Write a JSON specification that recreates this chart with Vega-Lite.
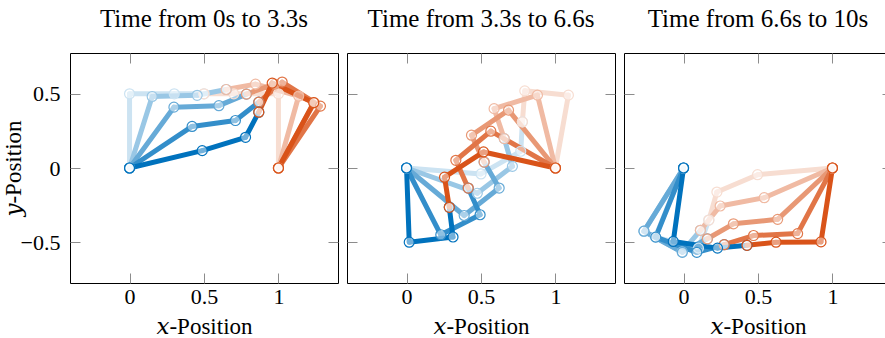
{
  "$schema": "https://vega.github.io/schema/vega-lite/v6.json",
  "padding": {"left": 1, "top": 6, "right": 0, "bottom": 0},
  "datasets": {
    "joints": [
      {"panel":1,"snap":1,"chain":"left","joint":0,"x":0,"y":0},
      {"panel":1,"snap":1,"chain":"left","joint":1,"x":0,"y":0.5},
      {"panel":1,"snap":1,"chain":"left","joint":2,"x":0.3,"y":0.5},
      {"panel":1,"snap":1,"chain":"left","joint":3,"x":0.5,"y":0.5},
      {"panel":1,"snap":1,"chain":"right","joint":0,"x":1,"y":0},
      {"panel":1,"snap":1,"chain":"right","joint":1,"x":1,"y":0.5},
      {"panel":1,"snap":1,"chain":"right","joint":2,"x":0.7,"y":0.5},
      {"panel":1,"snap":1,"chain":"right","joint":3,"x":0.5,"y":0.5},
      {"panel":1,"snap":2,"chain":"left","joint":0,"x":0,"y":0},
      {"panel":1,"snap":2,"chain":"left","joint":1,"x":0.152,"y":0.482},
      {"panel":1,"snap":2,"chain":"left","joint":2,"x":0.454,"y":0.49},
      {"panel":1,"snap":2,"chain":"left","joint":3,"x":0.649,"y":0.529},
      {"panel":1,"snap":2,"chain":"right","joint":0,"x":1,"y":0},
      {"panel":1,"snap":2,"chain":"right","joint":1,"x":1.136,"y":0.485},
      {"panel":1,"snap":2,"chain":"right","joint":2,"x":0.846,"y":0.565},
      {"panel":1,"snap":2,"chain":"right","joint":3,"x":0.649,"y":0.529},
      {"panel":1,"snap":3,"chain":"left","joint":0,"x":0,"y":0},
      {"panel":1,"snap":3,"chain":"left","joint":1,"x":0.298,"y":0.41},
      {"panel":1,"snap":3,"chain":"left","joint":2,"x":0.6,"y":0.42},
      {"panel":1,"snap":3,"chain":"left","joint":3,"x":0.785,"y":0.498},
      {"panel":1,"snap":3,"chain":"right","joint":0,"x":1,"y":0},
      {"panel":1,"snap":3,"chain":"right","joint":1,"x":1.24,"y":0.44},
      {"panel":1,"snap":3,"chain":"right","joint":2,"x":0.975,"y":0.565},
      {"panel":1,"snap":3,"chain":"right","joint":3,"x":0.785,"y":0.498},
      {"panel":1,"snap":4,"chain":"left","joint":0,"x":0,"y":0},
      {"panel":1,"snap":4,"chain":"left","joint":1,"x":0.42,"y":0.28},
      {"panel":1,"snap":4,"chain":"left","joint":2,"x":0.711,"y":0.32},
      {"panel":1,"snap":4,"chain":"left","joint":3,"x":0.868,"y":0.444},
      {"panel":1,"snap":4,"chain":"right","joint":0,"x":1,"y":0},
      {"panel":1,"snap":4,"chain":"right","joint":1,"x":1.282,"y":0.417},
      {"panel":1,"snap":4,"chain":"right","joint":2,"x":1.025,"y":0.579},
      {"panel":1,"snap":4,"chain":"right","joint":3,"x":0.868,"y":0.444},
      {"panel":1,"snap":5,"chain":"left","joint":0,"x":0,"y":0},
      {"panel":1,"snap":5,"chain":"left","joint":1,"x":0.488,"y":0.117},
      {"panel":1,"snap":5,"chain":"left","joint":2,"x":0.779,"y":0.207},
      {"panel":1,"snap":5,"chain":"left","joint":3,"x":0.868,"y":0.376},
      {"panel":1,"snap":5,"chain":"right","joint":0,"x":1,"y":0},
      {"panel":1,"snap":5,"chain":"right","joint":1,"x":1.237,"y":0.44},
      {"panel":1,"snap":5,"chain":"right","joint":2,"x":0.958,"y":0.572},
      {"panel":1,"snap":5,"chain":"right","joint":3,"x":0.868,"y":0.376},

      {"panel":2,"snap":1,"chain":"left","joint":0,"x":0,"y":0},
      {"panel":2,"snap":1,"chain":"left","joint":1,"x":0.5,"y":-0.04},
      {"panel":2,"snap":1,"chain":"left","joint":2,"x":0.767,"y":0.113},
      {"panel":2,"snap":1,"chain":"left","joint":3,"x":0.778,"y":0.311},
      {"panel":2,"snap":1,"chain":"right","joint":0,"x":1,"y":0},
      {"panel":2,"snap":1,"chain":"right","joint":1,"x":1.087,"y":0.491},
      {"panel":2,"snap":1,"chain":"right","joint":2,"x":0.794,"y":0.52},
      {"panel":2,"snap":1,"chain":"right","joint":3,"x":0.778,"y":0.311},
      {"panel":2,"snap":2,"chain":"left","joint":0,"x":0,"y":0},
      {"panel":2,"snap":2,"chain":"left","joint":1,"x":0.475,"y":-0.17},
      {"panel":2,"snap":2,"chain":"left","joint":2,"x":0.711,"y":0.011},
      {"panel":2,"snap":2,"chain":"left","joint":3,"x":0.656,"y":0.198},
      {"panel":2,"snap":2,"chain":"right","joint":0,"x":1,"y":0},
      {"panel":2,"snap":2,"chain":"right","joint":1,"x":0.879,"y":0.491},
      {"panel":2,"snap":2,"chain":"right","joint":2,"x":0.588,"y":0.4},
      {"panel":2,"snap":2,"chain":"right","joint":3,"x":0.656,"y":0.198},
      {"panel":2,"snap":3,"chain":"left","joint":0,"x":0,"y":0},
      {"panel":2,"snap":3,"chain":"left","joint":1,"x":0.387,"y":-0.32},
      {"panel":2,"snap":3,"chain":"left","joint":2,"x":0.622,"y":-0.135},
      {"panel":2,"snap":3,"chain":"left","joint":3,"x":0.521,"y":0.04},
      {"panel":2,"snap":3,"chain":"right","joint":0,"x":1,"y":0},
      {"panel":2,"snap":3,"chain":"right","joint":1,"x":0.685,"y":0.39},
      {"panel":2,"snap":3,"chain":"right","joint":2,"x":0.436,"y":0.221},
      {"panel":2,"snap":3,"chain":"right","joint":3,"x":0.521,"y":0.04},
      {"panel":2,"snap":4,"chain":"left","joint":0,"x":0,"y":0},
      {"panel":2,"snap":4,"chain":"left","joint":1,"x":0.23,"y":-0.45},
      {"panel":2,"snap":4,"chain":"left","joint":2,"x":0.494,"y":-0.315},
      {"panel":2,"snap":4,"chain":"left","joint":3,"x":0.414,"y":-0.135},
      {"panel":2,"snap":4,"chain":"right","joint":0,"x":1,"y":0},
      {"panel":2,"snap":4,"chain":"right","joint":1,"x":0.566,"y":0.248},
      {"panel":2,"snap":4,"chain":"right","joint":2,"x":0.331,"y":0.052},
      {"panel":2,"snap":4,"chain":"right","joint":3,"x":0.414,"y":-0.135},
      {"panel":2,"snap":5,"chain":"left","joint":0,"x":0,"y":0},
      {"panel":2,"snap":5,"chain":"left","joint":1,"x":0.018,"y":-0.5},
      {"panel":2,"snap":5,"chain":"left","joint":2,"x":0.312,"y":-0.465},
      {"panel":2,"snap":5,"chain":"left","joint":3,"x":0.287,"y":-0.265},
      {"panel":2,"snap":5,"chain":"right","joint":0,"x":1,"y":0},
      {"panel":2,"snap":5,"chain":"right","joint":1,"x":0.517,"y":0.108},
      {"panel":2,"snap":5,"chain":"right","joint":2,"x":0.255,"y":-0.062},
      {"panel":2,"snap":5,"chain":"right","joint":3,"x":0.287,"y":-0.265},

      {"panel":3,"snap":1,"chain":"left","joint":0,"x":0,"y":0},
      {"panel":3,"snap":1,"chain":"left","joint":1,"x":-0.19,"y":-0.466},
      {"panel":3,"snap":1,"chain":"left","joint":2,"x":0.1,"y":-0.54},
      {"panel":3,"snap":1,"chain":"left","joint":3,"x":0.17,"y":-0.351},
      {"panel":3,"snap":1,"chain":"right","joint":0,"x":1,"y":0},
      {"panel":3,"snap":1,"chain":"right","joint":1,"x":0.497,"y":-0.045},
      {"panel":3,"snap":1,"chain":"right","joint":2,"x":0.224,"y":-0.162},
      {"panel":3,"snap":1,"chain":"right","joint":3,"x":0.17,"y":-0.351},
      {"panel":3,"snap":2,"chain":"left","joint":0,"x":0,"y":0},
      {"panel":3,"snap":2,"chain":"left","joint":1,"x":-0.266,"y":-0.426},
      {"panel":3,"snap":2,"chain":"left","joint":2,"x":-0.01,"y":-0.565},
      {"panel":3,"snap":2,"chain":"left","joint":3,"x":0.113,"y":-0.42},
      {"panel":3,"snap":2,"chain":"right","joint":0,"x":1,"y":0},
      {"panel":3,"snap":2,"chain":"right","joint":1,"x":0.542,"y":-0.2},
      {"panel":3,"snap":2,"chain":"right","joint":2,"x":0.246,"y":-0.256},
      {"panel":3,"snap":2,"chain":"right","joint":3,"x":0.113,"y":-0.42},
      {"panel":3,"snap":3,"chain":"left","joint":0,"x":0,"y":0},
      {"panel":3,"snap":3,"chain":"left","joint":1,"x":-0.266,"y":-0.426},
      {"panel":3,"snap":3,"chain":"left","joint":2,"x":-0.008,"y":-0.568},
      {"panel":3,"snap":3,"chain":"left","joint":3,"x":0.16,"y":-0.477},
      {"panel":3,"snap":3,"chain":"right","joint":0,"x":1,"y":0},
      {"panel":3,"snap":3,"chain":"right","joint":1,"x":0.632,"y":-0.346},
      {"panel":3,"snap":3,"chain":"right","joint":2,"x":0.335,"y":-0.376},
      {"panel":3,"snap":3,"chain":"right","joint":3,"x":0.16,"y":-0.477},
      {"panel":3,"snap":4,"chain":"left","joint":0,"x":0,"y":0},
      {"panel":3,"snap":4,"chain":"left","joint":1,"x":-0.187,"y":-0.466},
      {"panel":3,"snap":4,"chain":"left","joint":2,"x":0.089,"y":-0.568},
      {"panel":3,"snap":4,"chain":"left","joint":3,"x":0.273,"y":-0.517},
      {"panel":3,"snap":4,"chain":"right","joint":0,"x":1,"y":0},
      {"panel":3,"snap":4,"chain":"right","joint":1,"x":0.766,"y":-0.442},
      {"panel":3,"snap":4,"chain":"right","joint":2,"x":0.47,"y":-0.455},
      {"panel":3,"snap":4,"chain":"right","joint":3,"x":0.273,"y":-0.517},
      {"panel":3,"snap":5,"chain":"left","joint":0,"x":0,"y":0},
      {"panel":3,"snap":5,"chain":"left","joint":1,"x":-0.069,"y":-0.495},
      {"panel":3,"snap":5,"chain":"left","joint":2,"x":0.228,"y":-0.54},
      {"panel":3,"snap":5,"chain":"left","joint":3,"x":0.426,"y":-0.521},
      {"panel":3,"snap":5,"chain":"right","joint":0,"x":1,"y":0},
      {"panel":3,"snap":5,"chain":"right","joint":1,"x":0.923,"y":-0.498},
      {"panel":3,"snap":5,"chain":"right","joint":2,"x":0.621,"y":-0.5},
      {"panel":3,"snap":5,"chain":"right","joint":3,"x":0.426,"y":-0.521}
    ]
  },
  "config": {
    "font": "Liberation Serif",
    "view": {"stroke": "black", "strokeWidth": 1},
    "axis": {
      "grid": false,
      "domain": false,
      "tickSize": -10,
      "tickColor": "#8c8c8c",
      "tickWidth": 1,
      "labelFont": "Liberation Serif",
      "labelFontSize": 22,
      "labelColor": "black",
      "titleFont": "Liberation Serif, DejaVu Serif",
      "titleFontSize": 23,
      "titleFontWeight": "normal",
      "titleColor": "black"
    },
    "title": {"font": "Liberation Serif", "fontSize": 25, "fontWeight": "normal", "baseline": "alphabetic", "offset": 21, "color": "black"},
    "concat": {"spacing": 7}
  },
  "hconcat": [
    {
      "width": 268, "height": 230,
      "title": "Time from 0s to 3.3s",
      "data": {"name": "joints"},
      "transform": [
        {"filter": "datum.panel == 1"},
        {"window": [{"op": "lead", "field": "x", "as": "x_next"}, {"op": "lead", "field": "y", "as": "y_next"}], "groupby": ["panel", "snap", "chain"], "sort": [{"field": "joint"}]},
        {"calculate": "datum.chain + datum.snap", "as": "shade"}
      ],
      "layer": [
        {
          "transform": [{"filter": "datum.x_next != null"}],
          "mark": {"type": "rule", "strokeWidth": 5, "strokeCap": "round"},
          "encoding": {
            "x": {"field": "x", "type": "quantitative", "scale": {"domain": [-0.4, 1.4], "nice": false, "zero": false},
                  "axis": {"orient": "bottom", "values": [0, 0.5, 1], "format": ".1~f", "labelPadding": 13, "title": "𝑥-Position", "titlePadding": 8}},
            "y": {"field": "y", "type": "quantitative", "scale": {"domain": [-0.775, 0.775], "nice": false, "zero": false},
                  "axis": {"orient": "left", "values": [-0.5, 0, 0.5], "format": ".1~f", "labelPadding": 20, "title": "𝑦-Position", "titlePadding": -5}},
            "x2": {"field": "x_next"},
            "y2": {"field": "y_next"},
            "color": {"field": "shade", "type": "nominal", "legend": null,
                      "scale": {"domain": ["left1","left2","left3","left4","left5","right1","right2","right3","right4","right5"],
                                "range": ["#cce3f2","#99c7e5","#66aad7","#338eca","#0072bd","#f7ddd1","#f0baa3","#e89875","#e17547","#d95319"]}},
            "order": [{"field": "snap"}, {"field": "chain"}]
          }
        },
        {
          "mark": {"type": "point", "shape": "circle", "size": 100, "strokeWidth": 1.2, "filled": false, "fill": "white", "fillOpacity": 0.45},
          "encoding": {
            "x": {"field": "x", "type": "quantitative", "axis": {"orient": "top", "values": [0, 0.5, 1], "labels": false, "title": null}},
            "y": {"field": "y", "type": "quantitative", "axis": {"orient": "right", "values": [-0.5, 0, 0.5], "labels": false, "title": null}},
            "color": {"field": "shade", "type": "nominal", "legend": null},
            "order": [{"field": "snap"}, {"field": "chain"}]
          }
        }
      ],
      "resolve": {"axis": {"x": "independent", "y": "independent"}}
    },
    {
      "width": 268, "height": 230,
      "title": "Time from 3.3s to 6.6s",
      "data": {"name": "joints"},
      "transform": [
        {"filter": "datum.panel == 2"},
        {"window": [{"op": "lead", "field": "x", "as": "x_next"}, {"op": "lead", "field": "y", "as": "y_next"}], "groupby": ["panel", "snap", "chain"], "sort": [{"field": "joint"}]},
        {"calculate": "datum.chain + datum.snap", "as": "shade"}
      ],
      "layer": [
        {
          "transform": [{"filter": "datum.x_next != null"}],
          "mark": {"type": "rule", "strokeWidth": 5, "strokeCap": "round"},
          "encoding": {
            "x": {"field": "x", "type": "quantitative", "scale": {"domain": [-0.4, 1.4], "nice": false, "zero": false},
                  "axis": {"orient": "bottom", "values": [0, 0.5, 1], "format": ".1~f", "labelPadding": 13, "title": "𝑥-Position", "titlePadding": 8}},
            "y": {"field": "y", "type": "quantitative", "scale": {"domain": [-0.775, 0.775], "nice": false, "zero": false},
                  "axis": {"orient": "left", "values": [-0.5, 0, 0.5], "labels": false, "title": null}},
            "x2": {"field": "x_next"},
            "y2": {"field": "y_next"},
            "color": {"field": "shade", "type": "nominal", "legend": null,
                      "scale": {"domain": ["left1","left2","left3","left4","left5","right1","right2","right3","right4","right5"],
                                "range": ["#cce3f2","#99c7e5","#66aad7","#338eca","#0072bd","#f7ddd1","#f0baa3","#e89875","#e17547","#d95319"]}},
            "order": [{"field": "snap"}, {"field": "chain"}]
          }
        },
        {
          "mark": {"type": "point", "shape": "circle", "size": 100, "strokeWidth": 1.2, "filled": false, "fill": "white", "fillOpacity": 0.45},
          "encoding": {
            "x": {"field": "x", "type": "quantitative", "axis": {"orient": "top", "values": [0, 0.5, 1], "labels": false, "title": null}},
            "y": {"field": "y", "type": "quantitative", "axis": {"orient": "right", "values": [-0.5, 0, 0.5], "labels": false, "title": null}},
            "color": {"field": "shade", "type": "nominal", "legend": null},
            "order": [{"field": "snap"}, {"field": "chain"}]
          }
        }
      ],
      "resolve": {"axis": {"x": "independent", "y": "independent"}}
    },
    {
      "width": 268, "height": 230,
      "title": "Time from 6.6s to 10s",
      "data": {"name": "joints"},
      "transform": [
        {"filter": "datum.panel == 3"},
        {"window": [{"op": "lead", "field": "x", "as": "x_next"}, {"op": "lead", "field": "y", "as": "y_next"}], "groupby": ["panel", "snap", "chain"], "sort": [{"field": "joint"}]},
        {"calculate": "datum.chain + datum.snap", "as": "shade"}
      ],
      "layer": [
        {
          "transform": [{"filter": "datum.x_next != null"}],
          "mark": {"type": "rule", "strokeWidth": 5, "strokeCap": "round"},
          "encoding": {
            "x": {"field": "x", "type": "quantitative", "scale": {"domain": [-0.4, 1.4], "nice": false, "zero": false},
                  "axis": {"orient": "bottom", "values": [0, 0.5, 1], "format": ".1~f", "labelPadding": 13, "title": "𝑥-Position", "titlePadding": 8}},
            "y": {"field": "y", "type": "quantitative", "scale": {"domain": [-0.775, 0.775], "nice": false, "zero": false},
                  "axis": {"orient": "left", "values": [-0.5, 0, 0.5], "labels": false, "title": null}},
            "x2": {"field": "x_next"},
            "y2": {"field": "y_next"},
            "color": {"field": "shade", "type": "nominal", "legend": null,
                      "scale": {"domain": ["left1","left2","left3","left4","left5","right1","right2","right3","right4","right5"],
                                "range": ["#cce3f2","#99c7e5","#66aad7","#338eca","#0072bd","#f7ddd1","#f0baa3","#e89875","#e17547","#d95319"]}},
            "order": [{"field": "snap"}, {"field": "chain"}]
          }
        },
        {
          "mark": {"type": "point", "shape": "circle", "size": 100, "strokeWidth": 1.2, "filled": false, "fill": "white", "fillOpacity": 0.45},
          "encoding": {
            "x": {"field": "x", "type": "quantitative", "axis": {"orient": "top", "values": [0, 0.5, 1], "labels": false, "title": null}},
            "y": {"field": "y", "type": "quantitative", "axis": {"orient": "right", "values": [-0.5, 0, 0.5], "labels": false, "title": null}},
            "color": {"field": "shade", "type": "nominal", "legend": null},
            "order": [{"field": "snap"}, {"field": "chain"}]
          }
        }
      ],
      "resolve": {"axis": {"x": "independent", "y": "independent"}}
    }
  ]
}
